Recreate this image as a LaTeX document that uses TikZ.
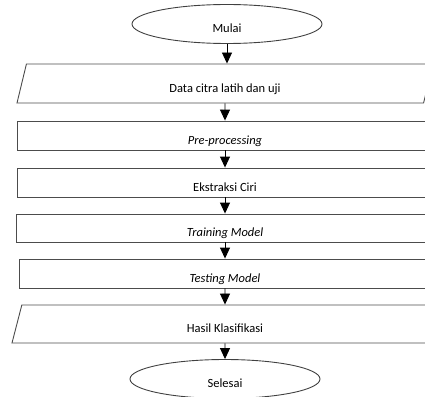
\documentclass[tikz,border=0pt]{standalone}
\usepackage{fontspec}
\setmainfont{Carlito}
\usetikzlibrary{shapes.geometric,arrows.meta}
\tikzset{
  box/.style={draw=black!70, line width=0.9pt, inner sep=0pt, text height=17pt, text depth=0pt},
  terminal/.style={box, ellipse, draw=black!75, minimum width=190pt, minimum height=39pt},
  process/.style={box, rectangle, minimum width=416pt, minimum height=29pt},
  io/.style={box, trapezium, trapezium left angle=61, trapezium right angle=119, trapezium stretches body=true, minimum width=416pt, minimum height=39pt},
  flow/.style={-{Triangle[width=10pt,length=11pt]}, black, line width=0.9pt}
}
\begin{document}
\begin{tikzpicture}[x=1pt,y=-1pt]
\fontsize{12.5}{15}\selectfont
\clip (0,0) rectangle (425,396);
\node[terminal] (mulai) at (227,24) {Mulai};
\node[io] (data) at (225,83.5) {Data citra latih dan uji};
\node[process] (pre) at (225,135.5) {\textit{Pre-processing}};
\node[process] (ekstraksi) at (225,182.5) {Ekstraksi Ciri};
\node[process, minimum width=418pt, minimum height=28pt] (training) at (225,228) {\textit{Training Model}};
\node[process, minimum width=412pt] (testing) at (225,273.5) {\textit{Testing Model}};
\node[io, minimum width=426pt, minimum height=38pt, trapezium left angle=60, trapezium right angle=120] (hasil) at (225,324) {Hasil Klasifikasi};
\node[terminal] (selesai) at (225,379) {Selesai};

\draw[flow] (mulai.south) -- (mulai.south |- data.north);
\foreach \a/\b in {data/pre, pre/ekstraksi, ekstraksi/training, training/testing, testing/hasil, hasil/selesai}
  \draw[flow] (\a.south) -- (\b.north);
\end{tikzpicture}
\end{document}
